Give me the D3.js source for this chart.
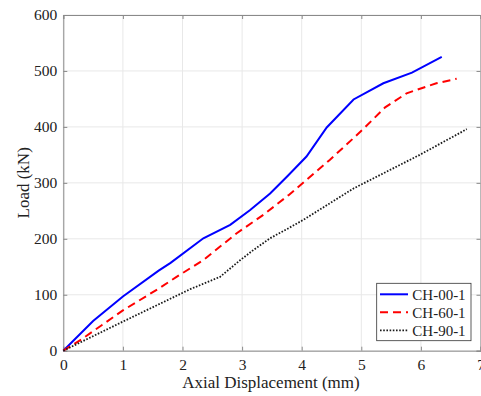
<!DOCTYPE html>
<html>
<head>
<meta charset="utf-8">
<script src="https://cdn.jsdelivr.net/npm/d3@7"></script>
<style>
  html, body { margin: 0; padding: 0; background: #fff; }
  svg { display: block; }
  text { font-family: "Liberation Serif", "Times New Roman", serif; fill: #222; }
</style>
</head>
<body>
<svg id="chart" width="481" height="396"></svg>
<script>
// axial displacement (mm) / load (kN)
const ch00X = [0, 0.5, 1, 1.6, 1.8, 2.35, 2.8, 3.13, 3.47, 3.78, 4.08, 4.42, 4.87, 5.37, 5.85, 6.35];
const ch00Y = [0, 53, 97, 143, 157, 201, 225, 251, 281, 314, 347, 399, 449, 478, 497, 525];

const ch60X = [0, 0.3, 0.65, 1, 1.6, 1.9, 2.35, 2.91, 3.36, 3.78, 4.47, 4.87, 5.05, 5.4, 5.76, 6.26, 6.6];
const ch60Y = [0, 20, 46, 72, 111, 132, 162, 210, 243, 278, 341, 380, 398, 435, 460, 478, 486];

const ch90X = [0, 1, 2.13, 2.63, 2.8, 2.97, 3.19, 3.47, 3.78, 4.03, 4.87, 5.98, 6.77];
const ch90Y = [0, 52, 110, 132, 147, 162, 180, 201, 219, 234, 290, 350, 396];

const seriesNames = ['CH-00-1', 'CH-60-1', 'CH-90-1'];
const xTicks = [0, 1, 2, 3, 4, 5, 6, 7];
const yTicks = [0, 100, 200, 300, 400, 500, 600];

const svg = d3.select('#chart');
const plotL = 63.3, plotR = 480.5, plotT = 15, plotB = 350.7;

const x = d3.scaleLinear().domain([0, 7]).range([plotL, plotR]);
const y = d3.scaleLinear().domain([0, 600]).range([plotB, plotT]);

// grid
svg.append('g')
  .selectAll('line')
  .data(xTicks)
  .enter().append('line')
  .attr('x1', d => x(d)).attr('x2', d => x(d))
  .attr('y1', plotT).attr('y2', plotB)
  .attr('stroke', '#e8e8e8').attr('stroke-width', 1);

svg.append('g')
  .selectAll('line')
  .data(yTicks)
  .enter().append('line')
  .attr('x1', plotL).attr('x2', plotR)
  .attr('y1', d => y(d)).attr('y2', d => y(d))
  .attr('stroke', '#e8e8e8').attr('stroke-width', 1);

// axes (ticks pointing inward, mirrored on top/right)
svg.append('g')
  .attr('transform', `translate(0,${plotB})`)
  .call(d3.axisBottom(x).tickValues(xTicks).tickSize(-4).tickPadding(8).tickFormat(d3.format('d')));
svg.append('g')
  .attr('transform', `translate(${plotL},0)`)
  .call(d3.axisLeft(y).tickValues(yTicks).tickSize(-4).tickPadding(6).tickFormat(d3.format('d')));
svg.append('g')
  .attr('transform', `translate(0,${plotT})`)
  .call(d3.axisTop(x).tickValues(xTicks).tickSize(-4).tickFormat(''));
svg.append('g')
  .attr('transform', `translate(${plotR},0)`)
  .call(d3.axisRight(y).tickValues(yTicks).tickSize(-4).tickFormat(''));

svg.selectAll('.domain').attr('stroke', '#8a8a8a').attr('stroke-width', 1);
svg.selectAll('.tick line').attr('stroke', '#8a8a8a');
svg.selectAll('.tick text')
  .attr('font-family', '"Liberation Serif", "Times New Roman", serif')
  .attr('font-size', 15.5)
  .attr('fill', '#222');

// axis titles
svg.append('text')
  .attr('x', (plotL + plotR) / 2 - 1).attr('y', 388)
  .attr('text-anchor', 'middle')
  .attr('font-size', 17)
  .text('Axial Displacement (mm)');

svg.append('text')
  .attr('transform', `translate(29,${(plotT + plotB) / 2}) rotate(-90)`)
  .attr('text-anchor', 'middle')
  .attr('font-size', 17)
  .text('Load (kN)');

// curves
const line = d3.line().x(d => x(d[0])).y(d => y(d[1]));
const series = [
  { name: seriesNames[0], pts: d3.zip(ch00X, ch00Y), color: '#0000ff', dash: null, width: 2 },
  { name: seriesNames[1], pts: d3.zip(ch60X, ch60Y), color: '#ff0000', dash: '8,5', width: 2 },
  { name: seriesNames[2], pts: d3.zip(ch90X, ch90Y), color: '#1a1a1a', dash: '1.6,1.6', width: 1.8 }
];

svg.append('g')
  .selectAll('path')
  .data(series)
  .enter().append('path')
  .attr('d', d => line(d.pts))
  .attr('fill', 'none')
  .attr('stroke', d => d.color)
  .attr('stroke-width', d => d.width)
  .attr('stroke-dasharray', d => d.dash);

// legend
const lg = svg.append('g');
lg.append('rect')
  .attr('x', 376.7).attr('y', 283.3)
  .attr('width', 94.3).attr('height', 57.4)
  .attr('fill', '#fff').attr('stroke', '#333').attr('stroke-width', 0.8);

const rows = lg.selectAll('g')
  .data(series)
  .enter().append('g')
  .attr('transform', (d, i) => `translate(0,${294.3 + i * 18})`);

rows.append('line')
  .attr('x1', 380).attr('x2', 408)
  .attr('stroke', d => d.color)
  .attr('stroke-width', d => d.width)
  .attr('stroke-dasharray', d => d.dash);

rows.append('text')
  .attr('x', 412.3).attr('y', 5.5)
  .attr('font-size', 15)
  .text(d => d.name);
</script>
</body>
</html>
